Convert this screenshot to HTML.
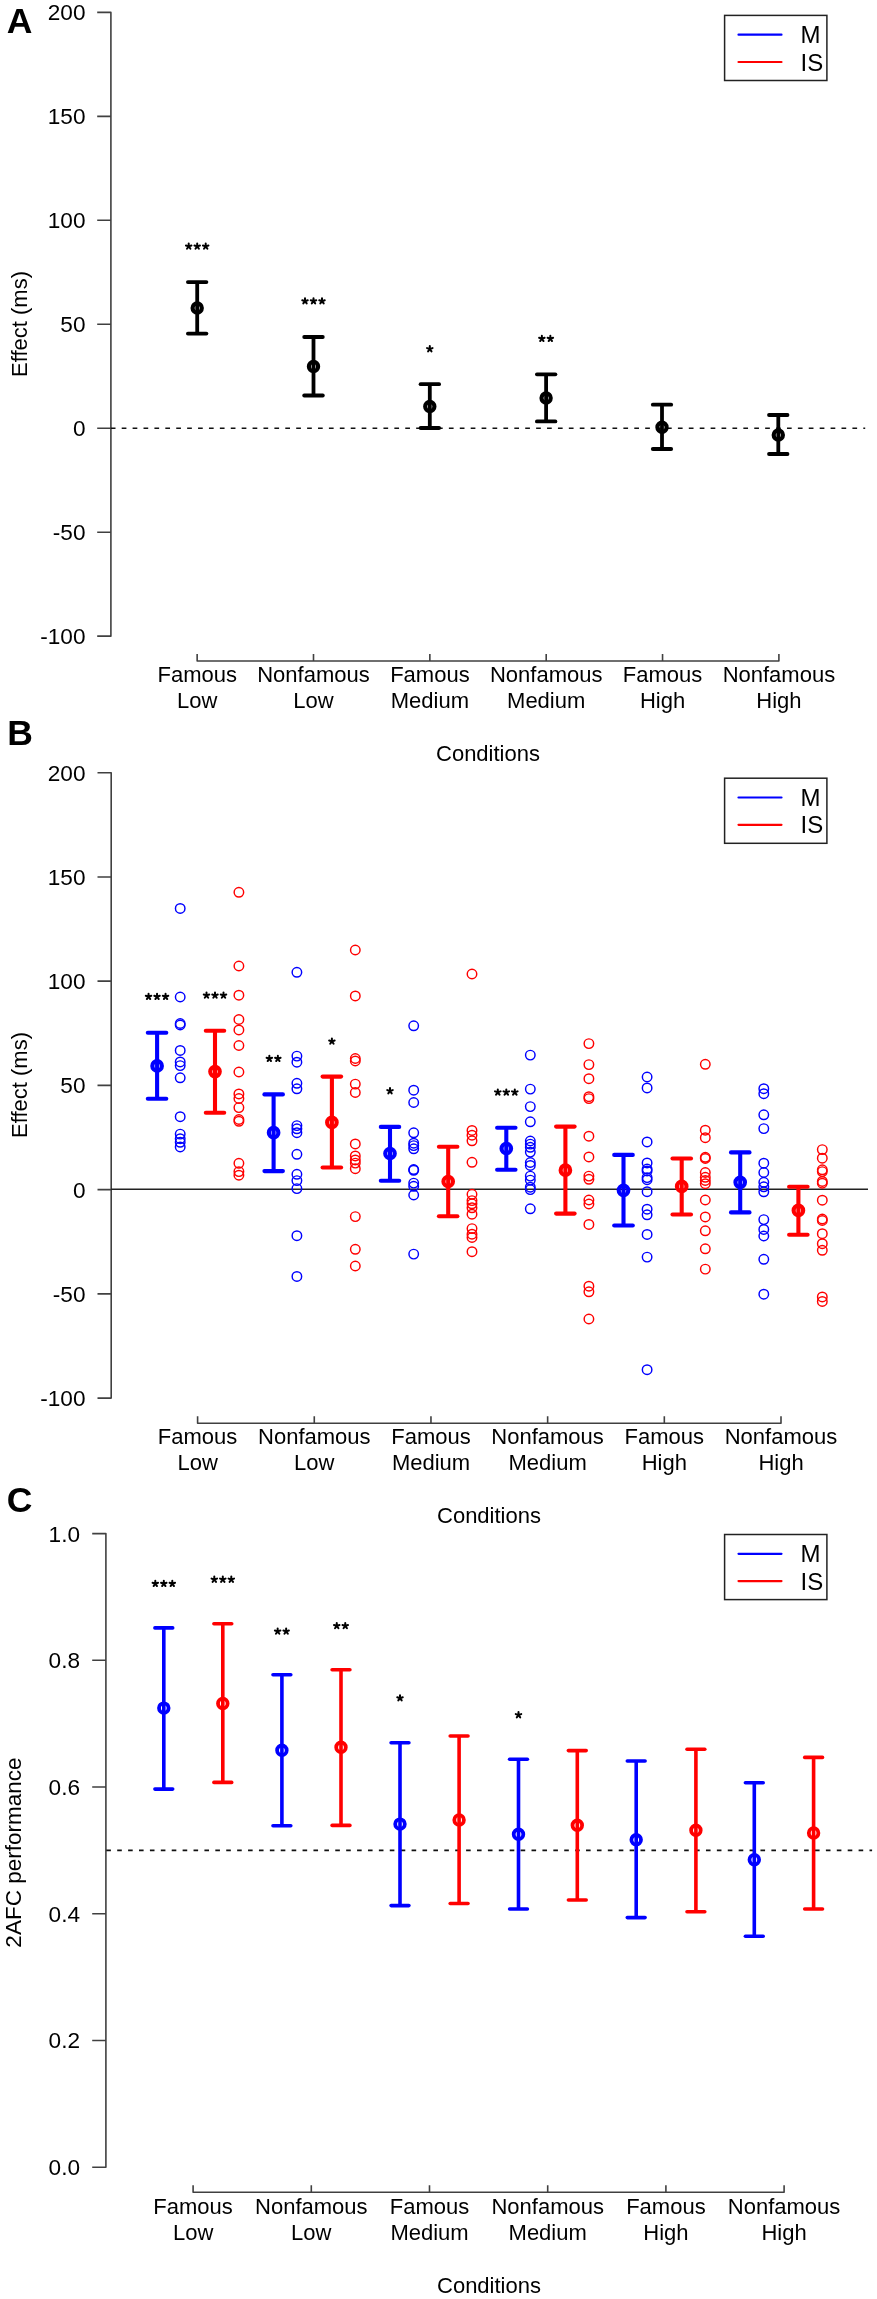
<!DOCTYPE html>
<html><head><meta charset="utf-8"><title>Figure</title>
<style>html,body{margin:0;padding:0;background:#fff;}svg{display:block;will-change:transform;}text{font-family:"Liberation Sans", sans-serif;fill:#000;}</style>
</head><body>
<svg width="877" height="2299" viewBox="0 0 877 2299">
<rect width="877" height="2299" fill="#fff"/>
<text x="6.8" y="32.8" font-size="35.5" text-anchor="start" font-weight="bold" >A</text>
<path d="M97.20 12.40L110.90 12.40L110.90 636.16L97.20 636.16M97.20 116.36L110.90 116.36M97.20 220.32L110.90 220.32M97.20 324.28L110.90 324.28M97.20 428.24L110.90 428.24M97.20 532.20L110.90 532.20" fill="none" stroke="#404040" stroke-width="1.6" stroke-linejoin="round" stroke-linecap="butt"/>
<text x="85.5" y="20.3" font-size="22.6" text-anchor="end" font-weight="normal" >200</text>
<text x="85.5" y="124.3" font-size="22.6" text-anchor="end" font-weight="normal" >150</text>
<text x="85.5" y="228.2" font-size="22.6" text-anchor="end" font-weight="normal" >100</text>
<text x="85.5" y="332.2" font-size="22.6" text-anchor="end" font-weight="normal" >50</text>
<text x="85.5" y="436.1" font-size="22.6" text-anchor="end" font-weight="normal" >0</text>
<text x="85.5" y="540.1" font-size="22.6" text-anchor="end" font-weight="normal" >-50</text>
<text x="85.5" y="644.1" font-size="22.6" text-anchor="end" font-weight="normal" >-100</text>
<path d="M197.15 654.00L197.15 661.00L778.90 661.00L778.90 654.00M313.50 654.00L313.50 661.00M429.85 654.00L429.85 661.00M546.20 654.00L546.20 661.00M662.55 654.00L662.55 661.00" fill="none" stroke="#404040" stroke-width="1.6" stroke-linejoin="round" stroke-linecap="butt"/>
<text x="197.2" y="682.0" font-size="22" text-anchor="middle" font-weight="normal" >Famous</text>
<text x="197.2" y="707.8" font-size="22" text-anchor="middle" font-weight="normal" >Low</text>
<text x="313.5" y="682.0" font-size="22" text-anchor="middle" font-weight="normal" >Nonfamous</text>
<text x="313.5" y="707.8" font-size="22" text-anchor="middle" font-weight="normal" >Low</text>
<text x="429.9" y="682.0" font-size="22" text-anchor="middle" font-weight="normal" >Famous</text>
<text x="429.9" y="707.8" font-size="22" text-anchor="middle" font-weight="normal" >Medium</text>
<text x="546.2" y="682.0" font-size="22" text-anchor="middle" font-weight="normal" >Nonfamous</text>
<text x="546.2" y="707.8" font-size="22" text-anchor="middle" font-weight="normal" >Medium</text>
<text x="662.5" y="682.0" font-size="22" text-anchor="middle" font-weight="normal" >Famous</text>
<text x="662.5" y="707.8" font-size="22" text-anchor="middle" font-weight="normal" >High</text>
<text x="778.9" y="682.0" font-size="22" text-anchor="middle" font-weight="normal" >Nonfamous</text>
<text x="778.9" y="707.8" font-size="22" text-anchor="middle" font-weight="normal" >High</text>
<text x="488.0" y="761.0" font-size="22" text-anchor="middle" font-weight="normal" >Conditions</text>
<text x="27" y="324" font-size="22" text-anchor="middle" transform="rotate(-90 27 324)">Effect (ms)</text>
<line x1="110.8" y1="428.2" x2="865.2" y2="428.2" stroke="#111" stroke-width="1.6" stroke-linecap="butt" stroke-dasharray="4.7 6.206"/>
<line x1="197.2" y1="282.1" x2="197.2" y2="333.6" stroke="#000" stroke-width="3.8" stroke-linecap="butt" />
<line x1="187.9" y1="282.1" x2="206.4" y2="282.1" stroke="#000" stroke-width="3.8" stroke-linecap="round" />
<line x1="187.9" y1="333.6" x2="206.4" y2="333.6" stroke="#000" stroke-width="3.8" stroke-linecap="round" />
<circle cx="197.2" cy="307.9" r="4.6" fill="none" stroke="#000" stroke-width="4.2"/>
<path d="M188.70 246.40L188.70 243.50M188.70 246.40L191.46 245.50M188.70 246.40L190.40 248.75M188.70 246.40L187.00 248.75M188.70 246.40L185.94 245.50M197.20 246.40L197.20 243.50M197.20 246.40L199.96 245.50M197.20 246.40L198.90 248.75M197.20 246.40L195.50 248.75M197.20 246.40L194.44 245.50M205.70 246.40L205.70 243.50M205.70 246.40L208.46 245.50M205.70 246.40L207.40 248.75M205.70 246.40L204.00 248.75M205.70 246.40L202.94 245.50" stroke="#000" stroke-width="2.0" stroke-linecap="round" fill="none"/>
<line x1="313.5" y1="337.0" x2="313.5" y2="395.5" stroke="#000" stroke-width="3.8" stroke-linecap="butt" />
<line x1="304.2" y1="337.0" x2="322.8" y2="337.0" stroke="#000" stroke-width="3.8" stroke-linecap="round" />
<line x1="304.2" y1="395.5" x2="322.8" y2="395.5" stroke="#000" stroke-width="3.8" stroke-linecap="round" />
<circle cx="313.5" cy="366.4" r="4.6" fill="none" stroke="#000" stroke-width="4.2"/>
<path d="M305.00 301.10L305.00 298.20M305.00 301.10L307.76 300.20M305.00 301.10L306.70 303.45M305.00 301.10L303.30 303.45M305.00 301.10L302.24 300.20M313.50 301.10L313.50 298.20M313.50 301.10L316.26 300.20M313.50 301.10L315.20 303.45M313.50 301.10L311.80 303.45M313.50 301.10L310.74 300.20M322.00 301.10L322.00 298.20M322.00 301.10L324.76 300.20M322.00 301.10L323.70 303.45M322.00 301.10L320.30 303.45M322.00 301.10L319.24 300.20" stroke="#000" stroke-width="2.0" stroke-linecap="round" fill="none"/>
<line x1="429.8" y1="384.2" x2="429.8" y2="428.0" stroke="#000" stroke-width="3.8" stroke-linecap="butt" />
<line x1="420.6" y1="384.2" x2="439.1" y2="384.2" stroke="#000" stroke-width="3.8" stroke-linecap="round" />
<line x1="420.6" y1="428.0" x2="439.1" y2="428.0" stroke="#000" stroke-width="3.8" stroke-linecap="round" />
<circle cx="429.8" cy="406.4" r="4.6" fill="none" stroke="#000" stroke-width="4.2"/>
<path d="M429.80 349.00L429.80 346.10M429.80 349.00L432.56 348.10M429.80 349.00L431.50 351.35M429.80 349.00L428.10 351.35M429.80 349.00L427.04 348.10" stroke="#000" stroke-width="2.0" stroke-linecap="round" fill="none"/>
<line x1="546.1" y1="374.3" x2="546.1" y2="421.4" stroke="#000" stroke-width="3.8" stroke-linecap="butt" />
<line x1="536.9" y1="374.3" x2="555.4" y2="374.3" stroke="#000" stroke-width="3.8" stroke-linecap="round" />
<line x1="536.9" y1="421.4" x2="555.4" y2="421.4" stroke="#000" stroke-width="3.8" stroke-linecap="round" />
<circle cx="546.1" cy="397.9" r="4.6" fill="none" stroke="#000" stroke-width="4.2"/>
<path d="M541.85 338.70L541.85 335.80M541.85 338.70L544.61 337.80M541.85 338.70L543.55 341.05M541.85 338.70L540.15 341.05M541.85 338.70L539.09 337.80M550.35 338.70L550.35 335.80M550.35 338.70L553.11 337.80M550.35 338.70L552.05 341.05M550.35 338.70L548.65 341.05M550.35 338.70L547.59 337.80" stroke="#000" stroke-width="2.0" stroke-linecap="round" fill="none"/>
<line x1="662.0" y1="404.7" x2="662.0" y2="449.0" stroke="#000" stroke-width="3.8" stroke-linecap="butt" />
<line x1="652.8" y1="404.7" x2="671.2" y2="404.7" stroke="#000" stroke-width="3.8" stroke-linecap="round" />
<line x1="652.8" y1="449.0" x2="671.2" y2="449.0" stroke="#000" stroke-width="3.8" stroke-linecap="round" />
<circle cx="662.0" cy="427.3" r="4.6" fill="none" stroke="#000" stroke-width="4.2"/>
<line x1="778.3" y1="415.0" x2="778.3" y2="454.0" stroke="#000" stroke-width="3.8" stroke-linecap="butt" />
<line x1="769.0" y1="415.0" x2="787.5" y2="415.0" stroke="#000" stroke-width="3.8" stroke-linecap="round" />
<line x1="769.0" y1="454.0" x2="787.5" y2="454.0" stroke="#000" stroke-width="3.8" stroke-linecap="round" />
<circle cx="778.3" cy="435.0" r="4.6" fill="none" stroke="#000" stroke-width="4.2"/>
<rect x="724.6" y="15.4" width="102.3" height="65.1" fill="none" stroke="#222" stroke-width="1.5"/>
<line x1="738.5" y1="34.7" x2="781.5" y2="34.7" stroke="#0000ff" stroke-width="2.2" stroke-linecap="round" />
<line x1="738.5" y1="62.0" x2="781.5" y2="62.0" stroke="#ff0000" stroke-width="2.2" stroke-linecap="round" />
<text x="800.5" y="43.1" font-size="24" text-anchor="start" font-weight="normal" >M</text>
<text x="800.5" y="70.6" font-size="24" text-anchor="start" font-weight="normal" >IS</text>
<text x="7.3" y="744.8" font-size="35.5" text-anchor="start" font-weight="bold" >B</text>
<path d="M97.50 772.70L111.20 772.70L111.20 1398.08L97.50 1398.08M97.50 876.93L111.20 876.93M97.50 981.16L111.20 981.16M97.50 1085.39L111.20 1085.39M97.50 1189.62L111.20 1189.62M97.50 1293.85L111.20 1293.85" fill="none" stroke="#404040" stroke-width="1.6" stroke-linejoin="round" stroke-linecap="butt"/>
<text x="85.5" y="780.6" font-size="22.6" text-anchor="end" font-weight="normal" >200</text>
<text x="85.5" y="884.8" font-size="22.6" text-anchor="end" font-weight="normal" >150</text>
<text x="85.5" y="989.1" font-size="22.6" text-anchor="end" font-weight="normal" >100</text>
<text x="85.5" y="1093.3" font-size="22.6" text-anchor="end" font-weight="normal" >50</text>
<text x="85.5" y="1197.5" font-size="22.6" text-anchor="end" font-weight="normal" >0</text>
<text x="85.5" y="1301.8" font-size="22.6" text-anchor="end" font-weight="normal" >-50</text>
<text x="85.5" y="1406.0" font-size="22.6" text-anchor="end" font-weight="normal" >-100</text>
<path d="M197.60 1416.20L197.60 1423.20L781.00 1423.20L781.00 1416.20M314.28 1416.20L314.28 1423.20M430.96 1416.20L430.96 1423.20M547.64 1416.20L547.64 1423.20M664.32 1416.20L664.32 1423.20" fill="none" stroke="#404040" stroke-width="1.6" stroke-linejoin="round" stroke-linecap="butt"/>
<text x="197.6" y="1444.4" font-size="22" text-anchor="middle" font-weight="normal" >Famous</text>
<text x="197.6" y="1470.2" font-size="22" text-anchor="middle" font-weight="normal" >Low</text>
<text x="314.3" y="1444.4" font-size="22" text-anchor="middle" font-weight="normal" >Nonfamous</text>
<text x="314.3" y="1470.2" font-size="22" text-anchor="middle" font-weight="normal" >Low</text>
<text x="431.0" y="1444.4" font-size="22" text-anchor="middle" font-weight="normal" >Famous</text>
<text x="431.0" y="1470.2" font-size="22" text-anchor="middle" font-weight="normal" >Medium</text>
<text x="547.6" y="1444.4" font-size="22" text-anchor="middle" font-weight="normal" >Nonfamous</text>
<text x="547.6" y="1470.2" font-size="22" text-anchor="middle" font-weight="normal" >Medium</text>
<text x="664.3" y="1444.4" font-size="22" text-anchor="middle" font-weight="normal" >Famous</text>
<text x="664.3" y="1470.2" font-size="22" text-anchor="middle" font-weight="normal" >High</text>
<text x="781.0" y="1444.4" font-size="22" text-anchor="middle" font-weight="normal" >Nonfamous</text>
<text x="781.0" y="1470.2" font-size="22" text-anchor="middle" font-weight="normal" >High</text>
<text x="489.0" y="1523.0" font-size="22" text-anchor="middle" font-weight="normal" >Conditions</text>
<text x="27" y="1085" font-size="22" text-anchor="middle" transform="rotate(-90 27 1085)">Effect (ms)</text>
<line x1="111.0" y1="1189.2" x2="868.0" y2="1189.2" stroke="#222" stroke-width="1.4" stroke-linecap="butt" />
<circle cx="180.2" cy="908.4" r="4.75" fill="none" stroke="#0000ff" stroke-width="1.45"/>
<circle cx="180.2" cy="997.0" r="4.75" fill="none" stroke="#0000ff" stroke-width="1.45"/>
<circle cx="180.2" cy="1023.5" r="4.75" fill="none" stroke="#0000ff" stroke-width="1.45"/>
<circle cx="180.2" cy="1025.0" r="4.75" fill="none" stroke="#0000ff" stroke-width="1.45"/>
<circle cx="180.2" cy="1050.4" r="4.75" fill="none" stroke="#0000ff" stroke-width="1.45"/>
<circle cx="180.2" cy="1061.9" r="4.75" fill="none" stroke="#0000ff" stroke-width="1.45"/>
<circle cx="180.2" cy="1065.6" r="4.75" fill="none" stroke="#0000ff" stroke-width="1.45"/>
<circle cx="180.2" cy="1077.8" r="4.75" fill="none" stroke="#0000ff" stroke-width="1.45"/>
<circle cx="180.2" cy="1116.7" r="4.75" fill="none" stroke="#0000ff" stroke-width="1.45"/>
<circle cx="180.2" cy="1134.1" r="4.75" fill="none" stroke="#0000ff" stroke-width="1.45"/>
<circle cx="180.2" cy="1138.7" r="4.75" fill="none" stroke="#0000ff" stroke-width="1.45"/>
<circle cx="180.2" cy="1142.3" r="4.75" fill="none" stroke="#0000ff" stroke-width="1.45"/>
<circle cx="180.2" cy="1146.9" r="4.75" fill="none" stroke="#0000ff" stroke-width="1.45"/>
<circle cx="238.9" cy="892.3" r="4.75" fill="none" stroke="#ff0000" stroke-width="1.45"/>
<circle cx="238.9" cy="966.0" r="4.75" fill="none" stroke="#ff0000" stroke-width="1.45"/>
<circle cx="238.9" cy="995.2" r="4.75" fill="none" stroke="#ff0000" stroke-width="1.45"/>
<circle cx="238.9" cy="1019.5" r="4.75" fill="none" stroke="#ff0000" stroke-width="1.45"/>
<circle cx="238.9" cy="1029.9" r="4.75" fill="none" stroke="#ff0000" stroke-width="1.45"/>
<circle cx="238.9" cy="1045.5" r="4.75" fill="none" stroke="#ff0000" stroke-width="1.45"/>
<circle cx="238.9" cy="1072.0" r="4.75" fill="none" stroke="#ff0000" stroke-width="1.45"/>
<circle cx="238.9" cy="1093.9" r="4.75" fill="none" stroke="#ff0000" stroke-width="1.45"/>
<circle cx="238.9" cy="1098.5" r="4.75" fill="none" stroke="#ff0000" stroke-width="1.45"/>
<circle cx="238.9" cy="1107.6" r="4.75" fill="none" stroke="#ff0000" stroke-width="1.45"/>
<circle cx="238.9" cy="1119.5" r="4.75" fill="none" stroke="#ff0000" stroke-width="1.45"/>
<circle cx="238.9" cy="1121.3" r="4.75" fill="none" stroke="#ff0000" stroke-width="1.45"/>
<circle cx="238.9" cy="1163.3" r="4.75" fill="none" stroke="#ff0000" stroke-width="1.45"/>
<circle cx="238.9" cy="1171.6" r="4.75" fill="none" stroke="#ff0000" stroke-width="1.45"/>
<circle cx="238.9" cy="1175.2" r="4.75" fill="none" stroke="#ff0000" stroke-width="1.45"/>
<line x1="157.1" y1="1032.7" x2="157.1" y2="1098.8" stroke="#0000ff" stroke-width="4.1" stroke-linecap="butt" />
<line x1="147.8" y1="1032.7" x2="166.3" y2="1032.7" stroke="#0000ff" stroke-width="4.1" stroke-linecap="round" />
<line x1="147.8" y1="1098.8" x2="166.3" y2="1098.8" stroke="#0000ff" stroke-width="4.1" stroke-linecap="round" />
<circle cx="157.1" cy="1065.9" r="4.75" fill="none" stroke="#0000ff" stroke-width="4.2"/>
<line x1="215.0" y1="1030.8" x2="215.0" y2="1112.7" stroke="#ff0000" stroke-width="4.1" stroke-linecap="butt" />
<line x1="205.8" y1="1030.8" x2="224.2" y2="1030.8" stroke="#ff0000" stroke-width="4.1" stroke-linecap="round" />
<line x1="205.8" y1="1112.7" x2="224.2" y2="1112.7" stroke="#ff0000" stroke-width="4.1" stroke-linecap="round" />
<circle cx="215.0" cy="1071.6" r="4.75" fill="none" stroke="#ff0000" stroke-width="4.2"/>
<path d="M148.55 996.70L148.55 993.80M148.55 996.70L151.31 995.80M148.55 996.70L150.25 999.05M148.55 996.70L146.85 999.05M148.55 996.70L145.79 995.80M157.05 996.70L157.05 993.80M157.05 996.70L159.81 995.80M157.05 996.70L158.75 999.05M157.05 996.70L155.35 999.05M157.05 996.70L154.29 995.80M165.55 996.70L165.55 993.80M165.55 996.70L168.31 995.80M165.55 996.70L167.25 999.05M165.55 996.70L163.85 999.05M165.55 996.70L162.79 995.80" stroke="#000" stroke-width="2.0" stroke-linecap="round" fill="none"/>
<path d="M206.50 995.40L206.50 992.50M206.50 995.40L209.26 994.50M206.50 995.40L208.20 997.75M206.50 995.40L204.80 997.75M206.50 995.40L203.74 994.50M215.00 995.40L215.00 992.50M215.00 995.40L217.76 994.50M215.00 995.40L216.70 997.75M215.00 995.40L213.30 997.75M215.00 995.40L212.24 994.50M223.50 995.40L223.50 992.50M223.50 995.40L226.26 994.50M223.50 995.40L225.20 997.75M223.50 995.40L221.80 997.75M223.50 995.40L220.74 994.50" stroke="#000" stroke-width="2.0" stroke-linecap="round" fill="none"/>
<circle cx="296.9" cy="972.3" r="4.75" fill="none" stroke="#0000ff" stroke-width="1.45"/>
<circle cx="296.9" cy="1056.1" r="4.75" fill="none" stroke="#0000ff" stroke-width="1.45"/>
<circle cx="296.9" cy="1062.2" r="4.75" fill="none" stroke="#0000ff" stroke-width="1.45"/>
<circle cx="296.9" cy="1083.3" r="4.75" fill="none" stroke="#0000ff" stroke-width="1.45"/>
<circle cx="296.9" cy="1088.8" r="4.75" fill="none" stroke="#0000ff" stroke-width="1.45"/>
<circle cx="296.9" cy="1125.6" r="4.75" fill="none" stroke="#0000ff" stroke-width="1.45"/>
<circle cx="296.9" cy="1128.8" r="4.75" fill="none" stroke="#0000ff" stroke-width="1.45"/>
<circle cx="296.9" cy="1132.7" r="4.75" fill="none" stroke="#0000ff" stroke-width="1.45"/>
<circle cx="296.9" cy="1154.3" r="4.75" fill="none" stroke="#0000ff" stroke-width="1.45"/>
<circle cx="296.9" cy="1174.3" r="4.75" fill="none" stroke="#0000ff" stroke-width="1.45"/>
<circle cx="296.9" cy="1180.6" r="4.75" fill="none" stroke="#0000ff" stroke-width="1.45"/>
<circle cx="296.9" cy="1188.6" r="4.75" fill="none" stroke="#0000ff" stroke-width="1.45"/>
<circle cx="296.9" cy="1235.7" r="4.75" fill="none" stroke="#0000ff" stroke-width="1.45"/>
<circle cx="296.9" cy="1276.4" r="4.75" fill="none" stroke="#0000ff" stroke-width="1.45"/>
<circle cx="355.3" cy="950.0" r="4.75" fill="none" stroke="#ff0000" stroke-width="1.45"/>
<circle cx="355.3" cy="995.9" r="4.75" fill="none" stroke="#ff0000" stroke-width="1.45"/>
<circle cx="355.3" cy="1058.5" r="4.75" fill="none" stroke="#ff0000" stroke-width="1.45"/>
<circle cx="355.3" cy="1060.9" r="4.75" fill="none" stroke="#ff0000" stroke-width="1.45"/>
<circle cx="355.3" cy="1084.1" r="4.75" fill="none" stroke="#ff0000" stroke-width="1.45"/>
<circle cx="355.3" cy="1092.5" r="4.75" fill="none" stroke="#ff0000" stroke-width="1.45"/>
<circle cx="355.3" cy="1143.9" r="4.75" fill="none" stroke="#ff0000" stroke-width="1.45"/>
<circle cx="355.3" cy="1155.9" r="4.75" fill="none" stroke="#ff0000" stroke-width="1.45"/>
<circle cx="355.3" cy="1159.9" r="4.75" fill="none" stroke="#ff0000" stroke-width="1.45"/>
<circle cx="355.3" cy="1163.1" r="4.75" fill="none" stroke="#ff0000" stroke-width="1.45"/>
<circle cx="355.3" cy="1168.7" r="4.75" fill="none" stroke="#ff0000" stroke-width="1.45"/>
<circle cx="355.3" cy="1216.6" r="4.75" fill="none" stroke="#ff0000" stroke-width="1.45"/>
<circle cx="355.3" cy="1249.3" r="4.75" fill="none" stroke="#ff0000" stroke-width="1.45"/>
<circle cx="355.3" cy="1266.0" r="4.75" fill="none" stroke="#ff0000" stroke-width="1.45"/>
<line x1="273.6" y1="1094.4" x2="273.6" y2="1171.1" stroke="#0000ff" stroke-width="4.1" stroke-linecap="butt" />
<line x1="264.4" y1="1094.4" x2="282.9" y2="1094.4" stroke="#0000ff" stroke-width="4.1" stroke-linecap="round" />
<line x1="264.4" y1="1171.1" x2="282.9" y2="1171.1" stroke="#0000ff" stroke-width="4.1" stroke-linecap="round" />
<circle cx="273.6" cy="1132.7" r="4.75" fill="none" stroke="#0000ff" stroke-width="4.2"/>
<line x1="331.9" y1="1076.6" x2="331.9" y2="1167.5" stroke="#ff0000" stroke-width="4.1" stroke-linecap="butt" />
<line x1="322.6" y1="1076.6" x2="341.1" y2="1076.6" stroke="#ff0000" stroke-width="4.1" stroke-linecap="round" />
<line x1="322.6" y1="1167.5" x2="341.1" y2="1167.5" stroke="#ff0000" stroke-width="4.1" stroke-linecap="round" />
<circle cx="331.9" cy="1122.4" r="4.75" fill="none" stroke="#ff0000" stroke-width="4.2"/>
<path d="M269.35 1058.70L269.35 1055.80M269.35 1058.70L272.11 1057.80M269.35 1058.70L271.05 1061.05M269.35 1058.70L267.65 1061.05M269.35 1058.70L266.59 1057.80M277.85 1058.70L277.85 1055.80M277.85 1058.70L280.61 1057.80M277.85 1058.70L279.55 1061.05M277.85 1058.70L276.15 1061.05M277.85 1058.70L275.09 1057.80" stroke="#000" stroke-width="2.0" stroke-linecap="round" fill="none"/>
<path d="M331.90 1041.40L331.90 1038.50M331.90 1041.40L334.66 1040.50M331.90 1041.40L333.60 1043.75M331.90 1041.40L330.20 1043.75M331.90 1041.40L329.14 1040.50" stroke="#000" stroke-width="2.0" stroke-linecap="round" fill="none"/>
<circle cx="413.7" cy="1025.8" r="4.75" fill="none" stroke="#0000ff" stroke-width="1.45"/>
<circle cx="413.7" cy="1090.2" r="4.75" fill="none" stroke="#0000ff" stroke-width="1.45"/>
<circle cx="413.7" cy="1102.5" r="4.75" fill="none" stroke="#0000ff" stroke-width="1.45"/>
<circle cx="413.7" cy="1132.8" r="4.75" fill="none" stroke="#0000ff" stroke-width="1.45"/>
<circle cx="413.7" cy="1143.2" r="4.75" fill="none" stroke="#0000ff" stroke-width="1.45"/>
<circle cx="413.7" cy="1145.6" r="4.75" fill="none" stroke="#0000ff" stroke-width="1.45"/>
<circle cx="413.7" cy="1148.8" r="4.75" fill="none" stroke="#0000ff" stroke-width="1.45"/>
<circle cx="413.7" cy="1169.5" r="4.75" fill="none" stroke="#0000ff" stroke-width="1.45"/>
<circle cx="413.7" cy="1170.3" r="4.75" fill="none" stroke="#0000ff" stroke-width="1.45"/>
<circle cx="413.7" cy="1183.1" r="4.75" fill="none" stroke="#0000ff" stroke-width="1.45"/>
<circle cx="413.7" cy="1186.3" r="4.75" fill="none" stroke="#0000ff" stroke-width="1.45"/>
<circle cx="413.7" cy="1195.0" r="4.75" fill="none" stroke="#0000ff" stroke-width="1.45"/>
<circle cx="413.7" cy="1254.1" r="4.75" fill="none" stroke="#0000ff" stroke-width="1.45"/>
<circle cx="472.0" cy="974.0" r="4.75" fill="none" stroke="#ff0000" stroke-width="1.45"/>
<circle cx="472.0" cy="1130.4" r="4.75" fill="none" stroke="#ff0000" stroke-width="1.45"/>
<circle cx="472.0" cy="1135.2" r="4.75" fill="none" stroke="#ff0000" stroke-width="1.45"/>
<circle cx="472.0" cy="1140.8" r="4.75" fill="none" stroke="#ff0000" stroke-width="1.45"/>
<circle cx="472.0" cy="1162.3" r="4.75" fill="none" stroke="#ff0000" stroke-width="1.45"/>
<circle cx="472.0" cy="1194.3" r="4.75" fill="none" stroke="#ff0000" stroke-width="1.45"/>
<circle cx="472.0" cy="1200.6" r="4.75" fill="none" stroke="#ff0000" stroke-width="1.45"/>
<circle cx="472.0" cy="1203.8" r="4.75" fill="none" stroke="#ff0000" stroke-width="1.45"/>
<circle cx="472.0" cy="1207.8" r="4.75" fill="none" stroke="#ff0000" stroke-width="1.45"/>
<circle cx="472.0" cy="1214.2" r="4.75" fill="none" stroke="#ff0000" stroke-width="1.45"/>
<circle cx="472.0" cy="1228.6" r="4.75" fill="none" stroke="#ff0000" stroke-width="1.45"/>
<circle cx="472.0" cy="1234.2" r="4.75" fill="none" stroke="#ff0000" stroke-width="1.45"/>
<circle cx="472.0" cy="1237.4" r="4.75" fill="none" stroke="#ff0000" stroke-width="1.45"/>
<circle cx="472.0" cy="1251.7" r="4.75" fill="none" stroke="#ff0000" stroke-width="1.45"/>
<line x1="390.0" y1="1126.9" x2="390.0" y2="1180.7" stroke="#0000ff" stroke-width="4.1" stroke-linecap="butt" />
<line x1="380.8" y1="1126.9" x2="399.2" y2="1126.9" stroke="#0000ff" stroke-width="4.1" stroke-linecap="round" />
<line x1="380.8" y1="1180.7" x2="399.2" y2="1180.7" stroke="#0000ff" stroke-width="4.1" stroke-linecap="round" />
<circle cx="390.0" cy="1153.5" r="4.75" fill="none" stroke="#0000ff" stroke-width="4.2"/>
<line x1="448.2" y1="1146.8" x2="448.2" y2="1216.3" stroke="#ff0000" stroke-width="4.1" stroke-linecap="butt" />
<line x1="438.9" y1="1146.8" x2="457.4" y2="1146.8" stroke="#ff0000" stroke-width="4.1" stroke-linecap="round" />
<line x1="438.9" y1="1216.3" x2="457.4" y2="1216.3" stroke="#ff0000" stroke-width="4.1" stroke-linecap="round" />
<circle cx="448.2" cy="1181.5" r="4.75" fill="none" stroke="#ff0000" stroke-width="4.2"/>
<path d="M390.00 1091.00L390.00 1088.10M390.00 1091.00L392.76 1090.10M390.00 1091.00L391.70 1093.35M390.00 1091.00L388.30 1093.35M390.00 1091.00L387.24 1090.10" stroke="#000" stroke-width="2.0" stroke-linecap="round" fill="none"/>
<circle cx="530.3" cy="1055.1" r="4.75" fill="none" stroke="#0000ff" stroke-width="1.45"/>
<circle cx="530.3" cy="1089.1" r="4.75" fill="none" stroke="#0000ff" stroke-width="1.45"/>
<circle cx="530.3" cy="1106.6" r="4.75" fill="none" stroke="#0000ff" stroke-width="1.45"/>
<circle cx="530.3" cy="1121.8" r="4.75" fill="none" stroke="#0000ff" stroke-width="1.45"/>
<circle cx="530.3" cy="1141.0" r="4.75" fill="none" stroke="#0000ff" stroke-width="1.45"/>
<circle cx="530.3" cy="1144.1" r="4.75" fill="none" stroke="#0000ff" stroke-width="1.45"/>
<circle cx="530.3" cy="1147.3" r="4.75" fill="none" stroke="#0000ff" stroke-width="1.45"/>
<circle cx="530.3" cy="1152.1" r="4.75" fill="none" stroke="#0000ff" stroke-width="1.45"/>
<circle cx="530.3" cy="1162.5" r="4.75" fill="none" stroke="#0000ff" stroke-width="1.45"/>
<circle cx="530.3" cy="1165.4" r="4.75" fill="none" stroke="#0000ff" stroke-width="1.45"/>
<circle cx="530.3" cy="1176.1" r="4.75" fill="none" stroke="#0000ff" stroke-width="1.45"/>
<circle cx="530.3" cy="1180.1" r="4.75" fill="none" stroke="#0000ff" stroke-width="1.45"/>
<circle cx="530.3" cy="1187.2" r="4.75" fill="none" stroke="#0000ff" stroke-width="1.45"/>
<circle cx="530.3" cy="1189.6" r="4.75" fill="none" stroke="#0000ff" stroke-width="1.45"/>
<circle cx="530.3" cy="1208.8" r="4.75" fill="none" stroke="#0000ff" stroke-width="1.45"/>
<circle cx="588.9" cy="1043.6" r="4.75" fill="none" stroke="#ff0000" stroke-width="1.45"/>
<circle cx="588.9" cy="1064.6" r="4.75" fill="none" stroke="#ff0000" stroke-width="1.45"/>
<circle cx="588.9" cy="1078.7" r="4.75" fill="none" stroke="#ff0000" stroke-width="1.45"/>
<circle cx="588.9" cy="1096.7" r="4.75" fill="none" stroke="#ff0000" stroke-width="1.45"/>
<circle cx="588.9" cy="1098.6" r="4.75" fill="none" stroke="#ff0000" stroke-width="1.45"/>
<circle cx="588.9" cy="1136.2" r="4.75" fill="none" stroke="#ff0000" stroke-width="1.45"/>
<circle cx="588.9" cy="1156.9" r="4.75" fill="none" stroke="#ff0000" stroke-width="1.45"/>
<circle cx="588.9" cy="1176.1" r="4.75" fill="none" stroke="#ff0000" stroke-width="1.45"/>
<circle cx="588.9" cy="1179.3" r="4.75" fill="none" stroke="#ff0000" stroke-width="1.45"/>
<circle cx="588.9" cy="1200.0" r="4.75" fill="none" stroke="#ff0000" stroke-width="1.45"/>
<circle cx="588.9" cy="1204.0" r="4.75" fill="none" stroke="#ff0000" stroke-width="1.45"/>
<circle cx="588.9" cy="1224.4" r="4.75" fill="none" stroke="#ff0000" stroke-width="1.45"/>
<circle cx="588.9" cy="1286.2" r="4.75" fill="none" stroke="#ff0000" stroke-width="1.45"/>
<circle cx="588.9" cy="1291.8" r="4.75" fill="none" stroke="#ff0000" stroke-width="1.45"/>
<circle cx="588.9" cy="1319.0" r="4.75" fill="none" stroke="#ff0000" stroke-width="1.45"/>
<line x1="506.3" y1="1127.7" x2="506.3" y2="1169.7" stroke="#0000ff" stroke-width="4.1" stroke-linecap="butt" />
<line x1="497.1" y1="1127.7" x2="515.5" y2="1127.7" stroke="#0000ff" stroke-width="4.1" stroke-linecap="round" />
<line x1="497.1" y1="1169.7" x2="515.5" y2="1169.7" stroke="#0000ff" stroke-width="4.1" stroke-linecap="round" />
<circle cx="506.3" cy="1148.5" r="4.75" fill="none" stroke="#0000ff" stroke-width="4.2"/>
<line x1="565.4" y1="1126.6" x2="565.4" y2="1213.6" stroke="#ff0000" stroke-width="4.1" stroke-linecap="butt" />
<line x1="556.1" y1="1126.6" x2="574.6" y2="1126.6" stroke="#ff0000" stroke-width="4.1" stroke-linecap="round" />
<line x1="556.1" y1="1213.6" x2="574.6" y2="1213.6" stroke="#ff0000" stroke-width="4.1" stroke-linecap="round" />
<circle cx="565.4" cy="1170.2" r="4.75" fill="none" stroke="#ff0000" stroke-width="4.2"/>
<path d="M497.80 1092.30L497.80 1089.40M497.80 1092.30L500.56 1091.40M497.80 1092.30L499.50 1094.65M497.80 1092.30L496.10 1094.65M497.80 1092.30L495.04 1091.40M506.30 1092.30L506.30 1089.40M506.30 1092.30L509.06 1091.40M506.30 1092.30L508.00 1094.65M506.30 1092.30L504.60 1094.65M506.30 1092.30L503.54 1091.40M514.80 1092.30L514.80 1089.40M514.80 1092.30L517.56 1091.40M514.80 1092.30L516.50 1094.65M514.80 1092.30L513.10 1094.65M514.80 1092.30L512.04 1091.40" stroke="#000" stroke-width="2.0" stroke-linecap="round" fill="none"/>
<circle cx="647.1" cy="1077.0" r="4.75" fill="none" stroke="#0000ff" stroke-width="1.45"/>
<circle cx="647.1" cy="1087.9" r="4.75" fill="none" stroke="#0000ff" stroke-width="1.45"/>
<circle cx="647.1" cy="1141.9" r="4.75" fill="none" stroke="#0000ff" stroke-width="1.45"/>
<circle cx="647.1" cy="1162.9" r="4.75" fill="none" stroke="#0000ff" stroke-width="1.45"/>
<circle cx="647.1" cy="1169.0" r="4.75" fill="none" stroke="#0000ff" stroke-width="1.45"/>
<circle cx="647.1" cy="1170.9" r="4.75" fill="none" stroke="#0000ff" stroke-width="1.45"/>
<circle cx="647.1" cy="1177.6" r="4.75" fill="none" stroke="#0000ff" stroke-width="1.45"/>
<circle cx="647.1" cy="1179.7" r="4.75" fill="none" stroke="#0000ff" stroke-width="1.45"/>
<circle cx="647.1" cy="1191.7" r="4.75" fill="none" stroke="#0000ff" stroke-width="1.45"/>
<circle cx="647.1" cy="1209.2" r="4.75" fill="none" stroke="#0000ff" stroke-width="1.45"/>
<circle cx="647.1" cy="1214.8" r="4.75" fill="none" stroke="#0000ff" stroke-width="1.45"/>
<circle cx="647.1" cy="1234.4" r="4.75" fill="none" stroke="#0000ff" stroke-width="1.45"/>
<circle cx="647.1" cy="1257.1" r="4.75" fill="none" stroke="#0000ff" stroke-width="1.45"/>
<circle cx="647.1" cy="1369.7" r="4.75" fill="none" stroke="#0000ff" stroke-width="1.45"/>
<circle cx="705.3" cy="1064.3" r="4.75" fill="none" stroke="#ff0000" stroke-width="1.45"/>
<circle cx="705.3" cy="1130.2" r="4.75" fill="none" stroke="#ff0000" stroke-width="1.45"/>
<circle cx="705.3" cy="1137.7" r="4.75" fill="none" stroke="#ff0000" stroke-width="1.45"/>
<circle cx="705.3" cy="1157.3" r="4.75" fill="none" stroke="#ff0000" stroke-width="1.45"/>
<circle cx="705.3" cy="1158.5" r="4.75" fill="none" stroke="#ff0000" stroke-width="1.45"/>
<circle cx="705.3" cy="1172.5" r="4.75" fill="none" stroke="#ff0000" stroke-width="1.45"/>
<circle cx="705.3" cy="1177.3" r="4.75" fill="none" stroke="#ff0000" stroke-width="1.45"/>
<circle cx="705.3" cy="1180.5" r="4.75" fill="none" stroke="#ff0000" stroke-width="1.45"/>
<circle cx="705.3" cy="1183.7" r="4.75" fill="none" stroke="#ff0000" stroke-width="1.45"/>
<circle cx="705.3" cy="1200.0" r="4.75" fill="none" stroke="#ff0000" stroke-width="1.45"/>
<circle cx="705.3" cy="1216.9" r="4.75" fill="none" stroke="#ff0000" stroke-width="1.45"/>
<circle cx="705.3" cy="1230.8" r="4.75" fill="none" stroke="#ff0000" stroke-width="1.45"/>
<circle cx="705.3" cy="1248.8" r="4.75" fill="none" stroke="#ff0000" stroke-width="1.45"/>
<circle cx="705.3" cy="1269.1" r="4.75" fill="none" stroke="#ff0000" stroke-width="1.45"/>
<line x1="623.5" y1="1154.9" x2="623.5" y2="1225.5" stroke="#0000ff" stroke-width="4.1" stroke-linecap="butt" />
<line x1="614.2" y1="1154.9" x2="632.8" y2="1154.9" stroke="#0000ff" stroke-width="4.1" stroke-linecap="round" />
<line x1="614.2" y1="1225.5" x2="632.8" y2="1225.5" stroke="#0000ff" stroke-width="4.1" stroke-linecap="round" />
<circle cx="623.5" cy="1190.4" r="4.75" fill="none" stroke="#0000ff" stroke-width="4.2"/>
<line x1="681.7" y1="1158.5" x2="681.7" y2="1214.5" stroke="#ff0000" stroke-width="4.1" stroke-linecap="butt" />
<line x1="672.5" y1="1158.5" x2="691.0" y2="1158.5" stroke="#ff0000" stroke-width="4.1" stroke-linecap="round" />
<line x1="672.5" y1="1214.5" x2="691.0" y2="1214.5" stroke="#ff0000" stroke-width="4.1" stroke-linecap="round" />
<circle cx="681.7" cy="1186.4" r="4.75" fill="none" stroke="#ff0000" stroke-width="4.2"/>
<circle cx="763.8" cy="1088.7" r="4.75" fill="none" stroke="#0000ff" stroke-width="1.45"/>
<circle cx="763.8" cy="1093.7" r="4.75" fill="none" stroke="#0000ff" stroke-width="1.45"/>
<circle cx="763.8" cy="1114.8" r="4.75" fill="none" stroke="#0000ff" stroke-width="1.45"/>
<circle cx="763.8" cy="1128.6" r="4.75" fill="none" stroke="#0000ff" stroke-width="1.45"/>
<circle cx="763.8" cy="1163.2" r="4.75" fill="none" stroke="#0000ff" stroke-width="1.45"/>
<circle cx="763.8" cy="1172.5" r="4.75" fill="none" stroke="#0000ff" stroke-width="1.45"/>
<circle cx="763.8" cy="1182.3" r="4.75" fill="none" stroke="#0000ff" stroke-width="1.45"/>
<circle cx="763.8" cy="1186.8" r="4.75" fill="none" stroke="#0000ff" stroke-width="1.45"/>
<circle cx="763.8" cy="1191.8" r="4.75" fill="none" stroke="#0000ff" stroke-width="1.45"/>
<circle cx="763.8" cy="1219.6" r="4.75" fill="none" stroke="#0000ff" stroke-width="1.45"/>
<circle cx="763.8" cy="1229.4" r="4.75" fill="none" stroke="#0000ff" stroke-width="1.45"/>
<circle cx="763.8" cy="1236.0" r="4.75" fill="none" stroke="#0000ff" stroke-width="1.45"/>
<circle cx="763.8" cy="1259.3" r="4.75" fill="none" stroke="#0000ff" stroke-width="1.45"/>
<circle cx="763.8" cy="1294.2" r="4.75" fill="none" stroke="#0000ff" stroke-width="1.45"/>
<circle cx="822.3" cy="1149.6" r="4.75" fill="none" stroke="#ff0000" stroke-width="1.45"/>
<circle cx="822.3" cy="1158.2" r="4.75" fill="none" stroke="#ff0000" stroke-width="1.45"/>
<circle cx="822.3" cy="1169.8" r="4.75" fill="none" stroke="#ff0000" stroke-width="1.45"/>
<circle cx="822.3" cy="1171.6" r="4.75" fill="none" stroke="#ff0000" stroke-width="1.45"/>
<circle cx="822.3" cy="1181.4" r="4.75" fill="none" stroke="#ff0000" stroke-width="1.45"/>
<circle cx="822.3" cy="1183.2" r="4.75" fill="none" stroke="#ff0000" stroke-width="1.45"/>
<circle cx="822.3" cy="1200.2" r="4.75" fill="none" stroke="#ff0000" stroke-width="1.45"/>
<circle cx="822.3" cy="1219.0" r="4.75" fill="none" stroke="#ff0000" stroke-width="1.45"/>
<circle cx="822.3" cy="1220.5" r="4.75" fill="none" stroke="#ff0000" stroke-width="1.45"/>
<circle cx="822.3" cy="1233.7" r="4.75" fill="none" stroke="#ff0000" stroke-width="1.45"/>
<circle cx="822.3" cy="1243.7" r="4.75" fill="none" stroke="#ff0000" stroke-width="1.45"/>
<circle cx="822.3" cy="1250.3" r="4.75" fill="none" stroke="#ff0000" stroke-width="1.45"/>
<circle cx="822.3" cy="1296.9" r="4.75" fill="none" stroke="#ff0000" stroke-width="1.45"/>
<circle cx="822.3" cy="1301.4" r="4.75" fill="none" stroke="#ff0000" stroke-width="1.45"/>
<line x1="740.2" y1="1152.4" x2="740.2" y2="1212.4" stroke="#0000ff" stroke-width="4.1" stroke-linecap="butt" />
<line x1="731.0" y1="1152.4" x2="749.5" y2="1152.4" stroke="#0000ff" stroke-width="4.1" stroke-linecap="round" />
<line x1="731.0" y1="1212.4" x2="749.5" y2="1212.4" stroke="#0000ff" stroke-width="4.1" stroke-linecap="round" />
<circle cx="740.2" cy="1182.3" r="4.75" fill="none" stroke="#0000ff" stroke-width="4.2"/>
<line x1="798.4" y1="1186.8" x2="798.4" y2="1234.8" stroke="#ff0000" stroke-width="4.1" stroke-linecap="butt" />
<line x1="789.1" y1="1186.8" x2="807.6" y2="1186.8" stroke="#ff0000" stroke-width="4.1" stroke-linecap="round" />
<line x1="789.1" y1="1234.8" x2="807.6" y2="1234.8" stroke="#ff0000" stroke-width="4.1" stroke-linecap="round" />
<circle cx="798.4" cy="1210.4" r="4.75" fill="none" stroke="#ff0000" stroke-width="4.2"/>
<rect x="724.6" y="778.2" width="102.3" height="65.1" fill="none" stroke="#222" stroke-width="1.5"/>
<line x1="738.5" y1="797.5" x2="781.5" y2="797.5" stroke="#0000ff" stroke-width="2.2" stroke-linecap="round" />
<line x1="738.5" y1="824.8" x2="781.5" y2="824.8" stroke="#ff0000" stroke-width="2.2" stroke-linecap="round" />
<text x="800.5" y="805.9" font-size="24" text-anchor="start" font-weight="normal" >M</text>
<text x="800.5" y="833.4" font-size="24" text-anchor="start" font-weight="normal" >IS</text>
<text x="6.8" y="1511.9" font-size="35.5" text-anchor="start" font-weight="bold" >C</text>
<path d="M92.20 1533.60L105.90 1533.60L105.90 2167.20L92.20 2167.20M92.20 1660.32L105.90 1660.32M92.20 1787.04L105.90 1787.04M92.20 1913.76L105.90 1913.76M92.20 2040.48L105.90 2040.48" fill="none" stroke="#404040" stroke-width="1.6" stroke-linejoin="round" stroke-linecap="butt"/>
<text x="80.0" y="1541.5" font-size="22.6" text-anchor="end" font-weight="normal" >1.0</text>
<text x="80.0" y="1668.2" font-size="22.6" text-anchor="end" font-weight="normal" >0.8</text>
<text x="80.0" y="1794.9" font-size="22.6" text-anchor="end" font-weight="normal" >0.6</text>
<text x="80.0" y="1921.7" font-size="22.6" text-anchor="end" font-weight="normal" >0.4</text>
<text x="80.0" y="2048.4" font-size="22.6" text-anchor="end" font-weight="normal" >0.2</text>
<text x="80.0" y="2175.1" font-size="22.6" text-anchor="end" font-weight="normal" >0.0</text>
<path d="M193.10 2185.30L193.10 2192.30L784.10 2192.30L784.10 2185.30M311.30 2185.30L311.30 2192.30M429.50 2185.30L429.50 2192.30M547.70 2185.30L547.70 2192.30M665.90 2185.30L665.90 2192.30" fill="none" stroke="#404040" stroke-width="1.6" stroke-linejoin="round" stroke-linecap="butt"/>
<text x="193.1" y="2213.5" font-size="22" text-anchor="middle" font-weight="normal" >Famous</text>
<text x="193.1" y="2240.1" font-size="22" text-anchor="middle" font-weight="normal" >Low</text>
<text x="311.3" y="2213.5" font-size="22" text-anchor="middle" font-weight="normal" >Nonfamous</text>
<text x="311.3" y="2240.1" font-size="22" text-anchor="middle" font-weight="normal" >Low</text>
<text x="429.5" y="2213.5" font-size="22" text-anchor="middle" font-weight="normal" >Famous</text>
<text x="429.5" y="2240.1" font-size="22" text-anchor="middle" font-weight="normal" >Medium</text>
<text x="547.7" y="2213.5" font-size="22" text-anchor="middle" font-weight="normal" >Nonfamous</text>
<text x="547.7" y="2240.1" font-size="22" text-anchor="middle" font-weight="normal" >Medium</text>
<text x="665.9" y="2213.5" font-size="22" text-anchor="middle" font-weight="normal" >Famous</text>
<text x="665.9" y="2240.1" font-size="22" text-anchor="middle" font-weight="normal" >High</text>
<text x="784.1" y="2213.5" font-size="22" text-anchor="middle" font-weight="normal" >Nonfamous</text>
<text x="784.1" y="2240.1" font-size="22" text-anchor="middle" font-weight="normal" >High</text>
<text x="489.0" y="2293.0" font-size="22" text-anchor="middle" font-weight="normal" >Conditions</text>
<text x="20.6" y="1852.6" font-size="22.5" text-anchor="middle" transform="rotate(-90 20.6 1852.6)">2AFC performance</text>
<line x1="106.3" y1="1850.4" x2="872.1" y2="1850.4" stroke="#111" stroke-width="1.6" stroke-linecap="butt" stroke-dasharray="4.6 6.303"/>
<line x1="163.8" y1="1627.9" x2="163.8" y2="1789.1" stroke="#0000ff" stroke-width="3.6" stroke-linecap="butt" />
<line x1="154.9" y1="1627.9" x2="172.7" y2="1627.9" stroke="#0000ff" stroke-width="3.6" stroke-linecap="round" />
<line x1="154.9" y1="1789.1" x2="172.7" y2="1789.1" stroke="#0000ff" stroke-width="3.6" stroke-linecap="round" />
<circle cx="163.8" cy="1708.1" r="4.8" fill="none" stroke="#0000ff" stroke-width="3.8"/>
<path d="M155.30 1583.70L155.30 1580.80M155.30 1583.70L158.06 1582.80M155.30 1583.70L157.00 1586.05M155.30 1583.70L153.60 1586.05M155.30 1583.70L152.54 1582.80M163.80 1583.70L163.80 1580.80M163.80 1583.70L166.56 1582.80M163.80 1583.70L165.50 1586.05M163.80 1583.70L162.10 1586.05M163.80 1583.70L161.04 1582.80M172.30 1583.70L172.30 1580.80M172.30 1583.70L175.06 1582.80M172.30 1583.70L174.00 1586.05M172.30 1583.70L170.60 1586.05M172.30 1583.70L169.54 1582.80" stroke="#000" stroke-width="2.0" stroke-linecap="round" fill="none"/>
<line x1="222.8" y1="1623.7" x2="222.8" y2="1782.4" stroke="#ff0000" stroke-width="3.6" stroke-linecap="butt" />
<line x1="213.9" y1="1623.7" x2="231.7" y2="1623.7" stroke="#ff0000" stroke-width="3.6" stroke-linecap="round" />
<line x1="213.9" y1="1782.4" x2="231.7" y2="1782.4" stroke="#ff0000" stroke-width="3.6" stroke-linecap="round" />
<circle cx="222.8" cy="1703.5" r="4.8" fill="none" stroke="#ff0000" stroke-width="3.8"/>
<path d="M214.30 1579.50L214.30 1576.60M214.30 1579.50L217.06 1578.60M214.30 1579.50L216.00 1581.85M214.30 1579.50L212.60 1581.85M214.30 1579.50L211.54 1578.60M222.80 1579.50L222.80 1576.60M222.80 1579.50L225.56 1578.60M222.80 1579.50L224.50 1581.85M222.80 1579.50L221.10 1581.85M222.80 1579.50L220.04 1578.60M231.30 1579.50L231.30 1576.60M231.30 1579.50L234.06 1578.60M231.30 1579.50L233.00 1581.85M231.30 1579.50L229.60 1581.85M231.30 1579.50L228.54 1578.60" stroke="#000" stroke-width="2.0" stroke-linecap="round" fill="none"/>
<line x1="281.9" y1="1674.8" x2="281.9" y2="1825.8" stroke="#0000ff" stroke-width="3.6" stroke-linecap="butt" />
<line x1="273.0" y1="1674.8" x2="290.8" y2="1674.8" stroke="#0000ff" stroke-width="3.6" stroke-linecap="round" />
<line x1="273.0" y1="1825.8" x2="290.8" y2="1825.8" stroke="#0000ff" stroke-width="3.6" stroke-linecap="round" />
<circle cx="281.9" cy="1750.3" r="4.8" fill="none" stroke="#0000ff" stroke-width="3.8"/>
<path d="M277.65 1631.40L277.65 1628.50M277.65 1631.40L280.41 1630.50M277.65 1631.40L279.35 1633.75M277.65 1631.40L275.95 1633.75M277.65 1631.40L274.89 1630.50M286.15 1631.40L286.15 1628.50M286.15 1631.40L288.91 1630.50M286.15 1631.40L287.85 1633.75M286.15 1631.40L284.45 1633.75M286.15 1631.40L283.39 1630.50" stroke="#000" stroke-width="2.0" stroke-linecap="round" fill="none"/>
<line x1="341.0" y1="1669.7" x2="341.0" y2="1825.4" stroke="#ff0000" stroke-width="3.6" stroke-linecap="butt" />
<line x1="332.1" y1="1669.7" x2="349.9" y2="1669.7" stroke="#ff0000" stroke-width="3.6" stroke-linecap="round" />
<line x1="332.1" y1="1825.4" x2="349.9" y2="1825.4" stroke="#ff0000" stroke-width="3.6" stroke-linecap="round" />
<circle cx="341.0" cy="1747.3" r="4.8" fill="none" stroke="#ff0000" stroke-width="3.8"/>
<path d="M336.75 1625.90L336.75 1623.00M336.75 1625.90L339.51 1625.00M336.75 1625.90L338.45 1628.25M336.75 1625.90L335.05 1628.25M336.75 1625.90L333.99 1625.00M345.25 1625.90L345.25 1623.00M345.25 1625.90L348.01 1625.00M345.25 1625.90L346.95 1628.25M345.25 1625.90L343.55 1628.25M345.25 1625.90L342.49 1625.00" stroke="#000" stroke-width="2.0" stroke-linecap="round" fill="none"/>
<line x1="400.0" y1="1742.7" x2="400.0" y2="1905.6" stroke="#0000ff" stroke-width="3.6" stroke-linecap="butt" />
<line x1="391.1" y1="1742.7" x2="408.9" y2="1742.7" stroke="#0000ff" stroke-width="3.6" stroke-linecap="round" />
<line x1="391.1" y1="1905.6" x2="408.9" y2="1905.6" stroke="#0000ff" stroke-width="3.6" stroke-linecap="round" />
<circle cx="400.0" cy="1824.1" r="4.8" fill="none" stroke="#0000ff" stroke-width="3.8"/>
<path d="M400.00 1698.10L400.00 1695.20M400.00 1698.10L402.76 1697.20M400.00 1698.10L401.70 1700.45M400.00 1698.10L398.30 1700.45M400.00 1698.10L397.24 1697.20" stroke="#000" stroke-width="2.0" stroke-linecap="round" fill="none"/>
<line x1="459.1" y1="1736.0" x2="459.1" y2="1903.5" stroke="#ff0000" stroke-width="3.6" stroke-linecap="butt" />
<line x1="450.2" y1="1736.0" x2="468.0" y2="1736.0" stroke="#ff0000" stroke-width="3.6" stroke-linecap="round" />
<line x1="450.2" y1="1903.5" x2="468.0" y2="1903.5" stroke="#ff0000" stroke-width="3.6" stroke-linecap="round" />
<circle cx="459.1" cy="1819.9" r="4.8" fill="none" stroke="#ff0000" stroke-width="3.8"/>
<line x1="518.5" y1="1759.2" x2="518.5" y2="1909.0" stroke="#0000ff" stroke-width="3.6" stroke-linecap="butt" />
<line x1="509.6" y1="1759.2" x2="527.4" y2="1759.2" stroke="#0000ff" stroke-width="3.6" stroke-linecap="round" />
<line x1="509.6" y1="1909.0" x2="527.4" y2="1909.0" stroke="#0000ff" stroke-width="3.6" stroke-linecap="round" />
<circle cx="518.5" cy="1834.3" r="4.8" fill="none" stroke="#0000ff" stroke-width="3.8"/>
<path d="M518.50 1715.00L518.50 1712.10M518.50 1715.00L521.26 1714.10M518.50 1715.00L520.20 1717.35M518.50 1715.00L516.80 1717.35M518.50 1715.00L515.74 1714.10" stroke="#000" stroke-width="2.0" stroke-linecap="round" fill="none"/>
<line x1="577.3" y1="1750.6" x2="577.3" y2="1900.0" stroke="#ff0000" stroke-width="3.6" stroke-linecap="butt" />
<line x1="568.4" y1="1750.6" x2="586.2" y2="1750.6" stroke="#ff0000" stroke-width="3.6" stroke-linecap="round" />
<line x1="568.4" y1="1900.0" x2="586.2" y2="1900.0" stroke="#ff0000" stroke-width="3.6" stroke-linecap="round" />
<circle cx="577.3" cy="1825.3" r="4.8" fill="none" stroke="#ff0000" stroke-width="3.8"/>
<line x1="636.2" y1="1761.0" x2="636.2" y2="1917.6" stroke="#0000ff" stroke-width="3.6" stroke-linecap="butt" />
<line x1="627.3" y1="1761.0" x2="645.1" y2="1761.0" stroke="#0000ff" stroke-width="3.6" stroke-linecap="round" />
<line x1="627.3" y1="1917.6" x2="645.1" y2="1917.6" stroke="#0000ff" stroke-width="3.6" stroke-linecap="round" />
<circle cx="636.2" cy="1839.8" r="4.8" fill="none" stroke="#0000ff" stroke-width="3.8"/>
<line x1="695.9" y1="1749.2" x2="695.9" y2="1911.7" stroke="#ff0000" stroke-width="3.6" stroke-linecap="butt" />
<line x1="687.0" y1="1749.2" x2="704.8" y2="1749.2" stroke="#ff0000" stroke-width="3.6" stroke-linecap="round" />
<line x1="687.0" y1="1911.7" x2="704.8" y2="1911.7" stroke="#ff0000" stroke-width="3.6" stroke-linecap="round" />
<circle cx="695.9" cy="1830.3" r="4.8" fill="none" stroke="#ff0000" stroke-width="3.8"/>
<line x1="754.3" y1="1782.7" x2="754.3" y2="1936.2" stroke="#0000ff" stroke-width="3.6" stroke-linecap="butt" />
<line x1="745.4" y1="1782.7" x2="763.2" y2="1782.7" stroke="#0000ff" stroke-width="3.6" stroke-linecap="round" />
<line x1="745.4" y1="1936.2" x2="763.2" y2="1936.2" stroke="#0000ff" stroke-width="3.6" stroke-linecap="round" />
<circle cx="754.3" cy="1859.7" r="4.8" fill="none" stroke="#0000ff" stroke-width="3.8"/>
<line x1="813.6" y1="1757.4" x2="813.6" y2="1909.0" stroke="#ff0000" stroke-width="3.6" stroke-linecap="butt" />
<line x1="804.7" y1="1757.4" x2="822.5" y2="1757.4" stroke="#ff0000" stroke-width="3.6" stroke-linecap="round" />
<line x1="804.7" y1="1909.0" x2="822.5" y2="1909.0" stroke="#ff0000" stroke-width="3.6" stroke-linecap="round" />
<circle cx="813.6" cy="1833.0" r="4.8" fill="none" stroke="#ff0000" stroke-width="3.8"/>
<rect x="724.6" y="1534.5" width="102.3" height="65.1" fill="none" stroke="#222" stroke-width="1.5"/>
<line x1="738.5" y1="1553.8" x2="781.5" y2="1553.8" stroke="#0000ff" stroke-width="2.2" stroke-linecap="round" />
<line x1="738.5" y1="1581.1" x2="781.5" y2="1581.1" stroke="#ff0000" stroke-width="2.2" stroke-linecap="round" />
<text x="800.5" y="1562.2" font-size="24" text-anchor="start" font-weight="normal" >M</text>
<text x="800.5" y="1589.7" font-size="24" text-anchor="start" font-weight="normal" >IS</text>
</svg>
</body></html>
